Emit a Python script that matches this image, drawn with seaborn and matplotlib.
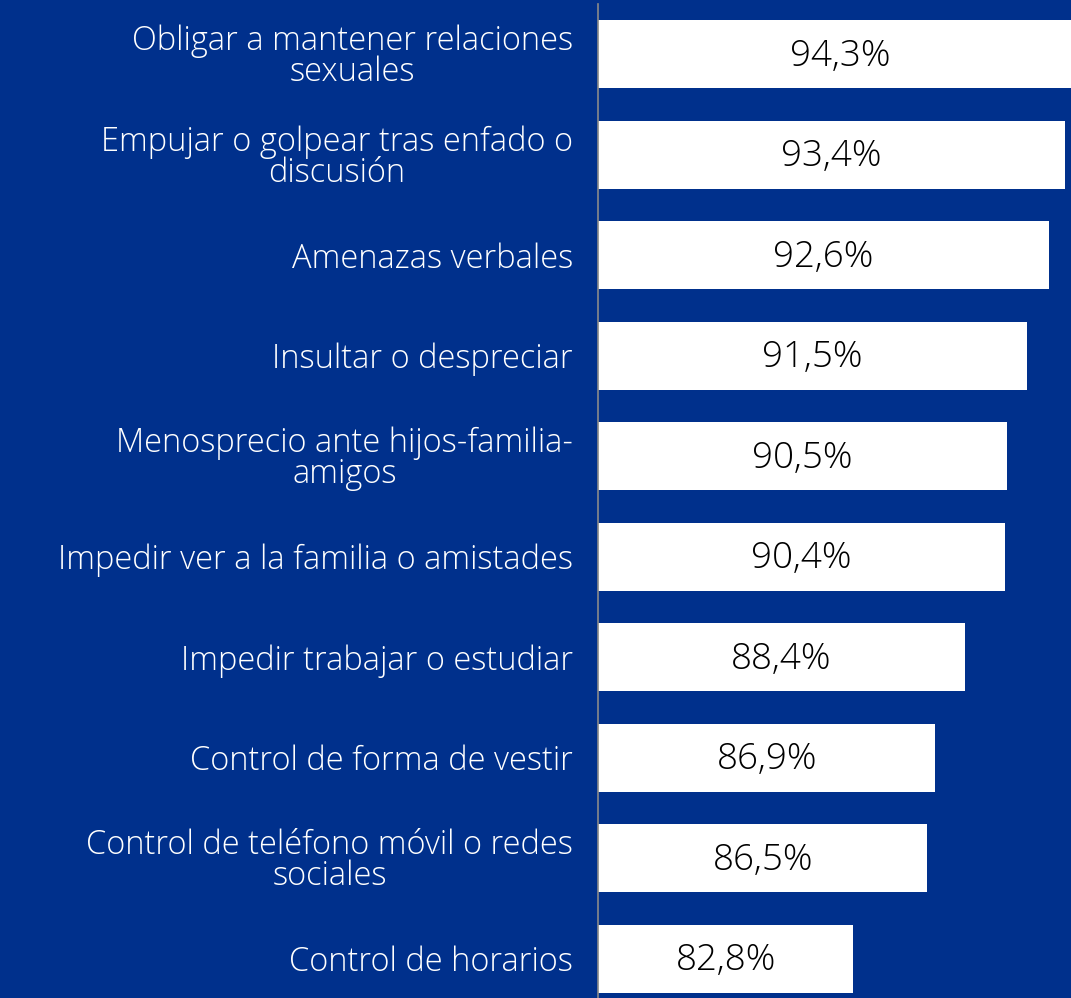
import matplotlib
matplotlib.use("Agg")
import matplotlib.pyplot as plt
import seaborn as sns
import pandas as pd

# data
categories = [
    "Obligar a mantener relaciones\nsexuales",
    "Empujar o golpear tras enfado o\ndiscusión",
    "Amenazas verbales",
    "Insultar o despreciar",
    "Menosprecio ante hijos-familia-\namigos",
    "Impedir ver a la familia o amistades",
    "Impedir trabajar o estudiar",
    "Control de forma de vestir",
    "Control de teléfono móvil o redes\nsociales",
    "Control de horarios",
]
values = [94.3, 93.4, 92.6, 91.5, 90.5, 90.4, 88.4, 86.9, 86.5, 82.8]

bg = "#00308C"
x_min = 70
font = "Open Sans"

df = pd.DataFrame({"categoria": categories, "valor": values})

fig = plt.figure(figsize=(10.71, 9.98), dpi=100)
fig.patch.set_facecolor(bg)
ax = fig.add_axes([598 / 1071, 0, 473 / 1071, 994 / 998])
ax.set_facecolor(bg)

sns.barplot(data=df, x="valor", y="categoria", orient="h", color="white",
            saturation=1, width=0.677, ax=ax)

ax.set_xlim(x_min, 93.7)
ax.set_ylim(9.393, -0.5)

# value labels in the middle of each bar
for i, v in enumerate(values):
    ax.text((x_min + v) / 2, i + 0.02, f"{v:.1f}%".replace(".", ","), ha="center", va="center",
            fontsize=26.5, color="black", family=font, fontweight="light")

ax.set_xlabel("")
ax.set_ylabel("")
ax.set_xticks([])
ax.tick_params(axis="y", length=0, pad=18)
ax.set_yticks(range(len(categories)))
ax.set_yticklabels(categories, fontsize=23.5, color="white", family=font, fontweight="light",
                   ha="right", multialignment="center", linespacing=0.9)

for s in ["top", "right", "bottom"]:
    ax.spines[s].set_visible(False)
ax.spines["left"].set_color("#8a8a8a")
ax.spines["left"].set_linewidth(1.2)

fig.savefig("out.png", dpi=100, facecolor=bg)
